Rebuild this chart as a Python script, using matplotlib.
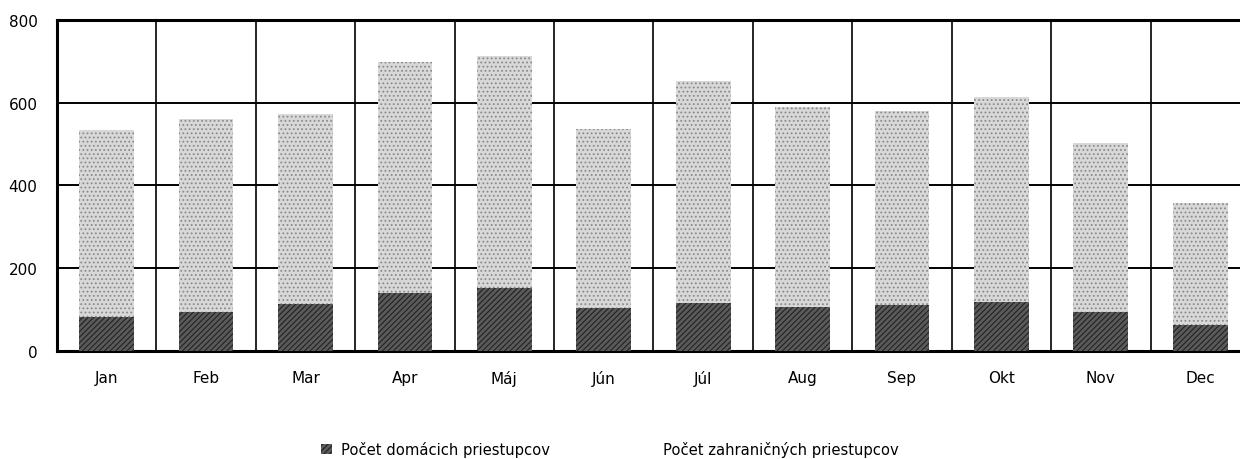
import numpy as np
import matplotlib.pyplot as plt
from matplotlib.patches import Patch

# mesiace a pocty priestupcov (odcitane z grafu)
mesiace = ["Jan", "Feb", "Mar", "Apr", "Máj", "Jún", "Júl", "Aug", "Sep", "Okt", "Nov", "Dec"]
domaci = [82, 94, 114, 140, 152, 104, 116, 106, 111, 118, 95, 63]
spolu = [534, 561, 573, 698, 713, 537, 653, 590, 580, 614, 502, 357]
zahranicni = [s - d for s, d in zip(spolu, domaci)]

plt.rcParams["font.family"] = ["DejaVu Sans"]
plt.rcParams["hatch.linewidth"] = 0.8

fig = plt.figure(figsize=(12.4, 4.6), dpi=100)
ax = fig.add_axes([0.046, 0.235, 0.962, 0.72])

x = np.arange(len(mesiace))
b1 = ax.bar(x, domaci, width=0.55, color="#5a5a5a", edgecolor="#222222",
            hatch="//////", linewidth=0, zorder=3, label="Počet domácich priestupcov")
b2 = ax.bar(x, zahranicni, width=0.55, bottom=domaci, color="#d8d8d8", edgecolor="#8a8a8a",
            hatch="....", linewidth=0, zorder=3, label="Počet zahraničných priestupcov")

ax.set_xlim(-0.5, len(mesiace) - 0.5)
ax.set_ylim(0, 800)
ax.set_yticks([0, 200, 400, 600, 800])
ax.set_xticks(x)
ax.set_xticklabels(mesiace)
ax.tick_params(axis="both", length=0, labelsize=11)
ax.tick_params(axis="x", pad=13.5)
ax.tick_params(axis="y", pad=14)

# mriezka
for v in [200, 400, 600]:
    ax.axhline(v, color="black", linewidth=1.4, zorder=1)
for i in range(1, len(mesiace)):
    ax.axvline(i - 0.5, color="black", linewidth=1.2, zorder=1)

for s in ["top", "bottom", "left"]:
    ax.spines[s].set_linewidth(2.2)
ax.spines["right"].set_visible(False)

# v povodnom grafe je znacka druhej polozky legendy neviditelna
h2 = Patch(facecolor="white", edgecolor="none", label=b2.get_label())
fig.legend(handles=[b1, h2], loc="center", bbox_to_anchor=(0.492, 0.022), ncol=2,
           frameon=False, fontsize=10.6, handlelength=0.7, handleheight=0.7,
           columnspacing=6.4, handletextpad=0.6)

plt.savefig("out.png", dpi=100)
